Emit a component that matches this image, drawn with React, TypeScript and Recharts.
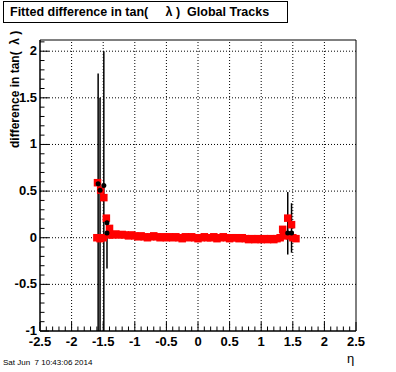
import { ComposedChart, ErrorBar, ReferenceArea, ReferenceLine, Scatter, XAxis, YAxis } from "recharts";

// red squares: the two ends of the eta range
const redEndX = [-1.6, -1.55, -1.5, -1.59, -1.54, -1.49, -1.45, -1.4, 1.34, 1.42, 1.48, 1.45, 1.5, 1.55];
const redEndY = [0.0, -0.01, 0.0, 0.59, 0.51, 0.43, 0.21, 0.1, 0.09, 0.21, 0.14, 0.02, 0.0, -0.01];

// red squares: the flat band in the middle
const bandX = [
  -1.4, -1.35, -1.3, -1.25, -1.2, -1.15, -1.1, -1.05, -1.0, -0.95,
  -0.9, -0.85, -0.8, -0.75, -0.7, -0.65, -0.6, -0.55, -0.5, -0.45,
  -0.4, -0.35, -0.3, -0.25, -0.2, -0.15, -0.1, -0.05, 0.0, 0.05,
  0.1, 0.15, 0.2, 0.25, 0.3, 0.35, 0.4, 0.45, 0.5, 0.55,
  0.6, 0.65, 0.7, 0.75, 0.8, 0.85, 0.9, 0.95, 1.0, 1.05,
  1.1, 1.15, 1.2, 1.25, 1.3, 1.35, 1.4,
];
const bandY = [
  0.03, 0.03, 0.04, 0.03, 0.035, 0.03, 0.02, 0.03, 0.02, 0.01,
  0.02, 0.01, 0.0, 0.01, 0.02, 0.01, 0.0, 0.01, 0.0, 0.01,
  0.0, 0.01, 0.0, -0.01, 0.01, 0.0, 0.01, 0.0, -0.01, 0.0,
  0.01, 0.0, 0.0, 0.01, -0.01, 0.0, 0.01, 0.0, -0.01, 0.0,
  0.0, -0.01, 0.0, -0.01, -0.02, -0.01, -0.02, -0.01, -0.02, -0.01,
  -0.02, -0.01, -0.02, -0.01, 0.0, 0.02, 0.03,
];

// black points with error bars
const blackX = [-1.58, -1.55, -1.49, -1.44, -1.44, 1.42, 1.48];
const blackY = [0.58, 0.51, 0.56, 0.16, 0.05, 0.05, 0.05];
const blackLow = [-1, -1, -1, 0.16, -0.33, -0.18, -0.16];
const blackHigh = [1.76, 1.5, 2.0, 0.16, 0.2, 0.49, 0.37];

const xMajor = [-2.5, -2, -1.5, -1, -0.5, 0, 0.5, 1, 1.5, 2, 2.5];
const yMajor = [-1, -0.5, 0, 0.5, 1, 1.5, 2];
const yMax = 2.12;

const xTicks: number[] = [];
for (let i = -25; i <= 25; i++) xTicks.push(i / 10);
const yTicks: number[] = [];
for (let i = -10; i <= 21; i++) yTicks.push(i / 10);

const isMajor = (v: number) => Math.abs(v * 2 - Math.round(v * 2)) < 1e-6;
const fmt = (v: number) => String(Math.round(v * 10) / 10);

const font = "'Liberation Sans', Arial, Helvetica, sans-serif";

const redData = [
  ...bandX.map((x, i) => ({ x, y: bandY[i] })),
  ...redEndX.map((x, i) => ({ x, y: redEndY[i] })),
];
const blackData = blackX.map((x, i) => ({
  x,
  y: blackY[i],
  err: [blackY[i] - blackLow[i], blackHigh[i] - blackY[i]],
}));

function XTick(props: any) {
  const { x, y, payload } = props;
  const major = isMajor(payload.value);
  return (
    <g>
      <line x1={x} x2={x} y1={y} y2={y - (major ? 9 : 4.5)} stroke="#000" />
      {major && (
        <text x={x} y={y + 15} textAnchor="middle" fontFamily={font} fontWeight="bold" fontSize={13} fill="#000">
          {fmt(payload.value)}
        </text>
      )}
    </g>
  );
}

function YTick(props: any) {
  const { x, y, payload } = props;
  const major = isMajor(payload.value);
  return (
    <g>
      <line x1={x} x2={x + (major ? 9 : 4.5)} y1={y} y2={y} stroke="#000" />
      {major && (
        <text x={x - 3} y={y + 4} textAnchor="end" fontFamily={font} fontWeight="bold" fontSize={13} fill="#000">
          {fmt(payload.value)}
        </text>
      )}
    </g>
  );
}

export default function App() {
  return (
    <div style={{ position: "absolute", left: 0, top: 0, width: 396, height: 372, background: "#fff" }}>
      <ComposedChart width={396} height={372} margin={{ top: 40, right: 40, bottom: 11, left: 0 }}>
        <XAxis
          type="number"
          dataKey="x"
          domain={[-2.5, 2.5]}
          ticks={xTicks}
          interval={0}
          height={30}
          tickSize={0}
          tickMargin={0}
          tickLine={false}
          tick={<XTick />}
          stroke="#000"
        />
        <YAxis
          type="number"
          dataKey="y"
          domain={[-1, yMax]}
          ticks={yTicks}
          interval={0}
          width={40}
          tickSize={0}
          tickMargin={0}
          tickLine={false}
          tick={<YTick />}
          stroke="#000"
        />
        {xMajor.slice(1, -1).map((v) => (
          <ReferenceLine key={"gx" + v} x={v} stroke="#000" strokeDasharray="1 2" />
        ))}
        {yMajor.slice(1).map((v) => (
          <ReferenceLine key={"gy" + v} y={v} stroke="#000" strokeDasharray="1 2" />
        ))}
        <Scatter
          data={redData}
          dataKey="y"
          isAnimationActive={false}
          shape={(p: any) => <rect x={p.cx - 3.75} y={p.cy - 3.75} width={7.5} height={7.5} fill="#ff0000" />}
        />
        <Scatter
          data={blackData}
          dataKey="y"
          isAnimationActive={false}
          shape={(p: any) => <circle cx={p.cx} cy={p.cy} r={2.5} fill="#000" />}
        >
          <ErrorBar dataKey="err" direction="y" width={0} stroke="#000" strokeWidth={1.5} />
        </Scatter>
        <ReferenceArea x1={-2.5} x2={2.5} y1={-1} y2={yMax} fill="none" stroke="#000" strokeWidth={1} />
      </ComposedChart>

      <div
        style={{
          position: "absolute",
          left: 3,
          top: 1,
          width: 277,
          height: 20,
          border: "1px solid #000",
          background: "#fff",
          fontFamily: font,
          fontWeight: "bold",
          fontSize: 12.5,
          lineHeight: "20px",
          paddingLeft: 6,
          boxSizing: "content-box",
          whiteSpace: "pre",
        }}
      >
        {"Fitted difference in tan(     λ )  Global Tracks"}
      </div>

      <div
        style={{
          position: "absolute",
          left: 16,
          top: 38,
          transformOrigin: "0 0",
          transform: "rotate(-90deg) translate(-110px, -8px)",
          width: 110,
          textAlign: "right",
          fontFamily: font,
          fontWeight: "bold",
          fontSize: 12,
          lineHeight: "14px",
          whiteSpace: "pre",
        }}
      >
        {"difference in tan(  λ )"}
      </div>

      <div
        style={{
          position: "absolute",
          left: 3,
          top: 358,
          fontFamily: font,
          fontSize: 8,
          lineHeight: "10px",
          whiteSpace: "pre",
        }}
      >
        {"Sat Jun  7 10:43:06 2014"}
      </div>

      <div
        style={{
          position: "absolute",
          left: 347,
          top: 352,
          fontFamily: font,
          fontSize: 13,
          lineHeight: "14px",
        }}
      >
        η
      </div>
    </div>
  );
}
